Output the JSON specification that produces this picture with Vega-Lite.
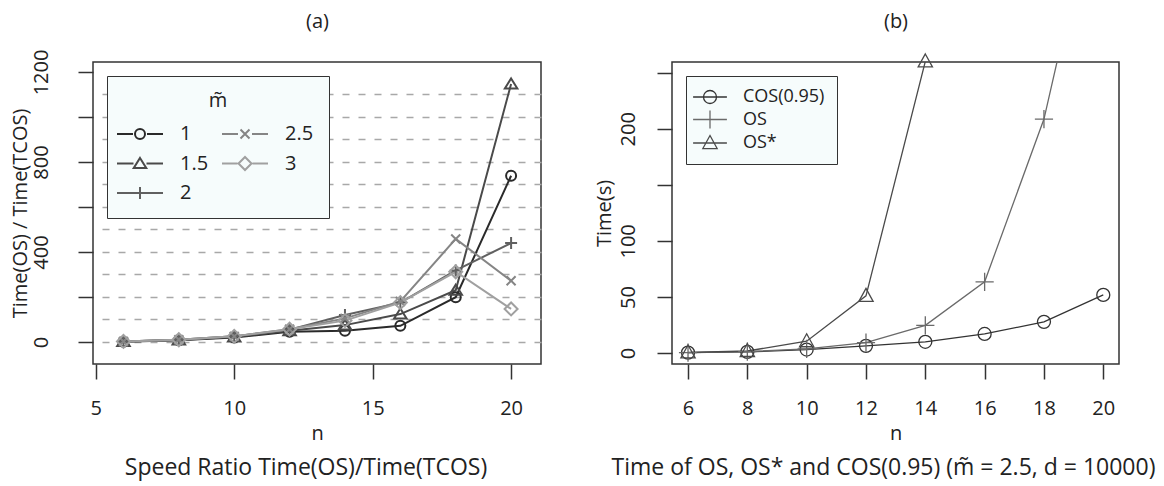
{
  "$schema": "https://vega.github.io/schema/vega-lite/v6.json",
  "background": "white",
  "padding": {"left": 9, "top": 10, "right": 0, "bottom": 0},
  "bounds": "flush",
  "spacing": 131,
  "resolve": {"scale": {"color": "independent", "shape": "independent"}, "legend": {"color": "independent", "shape": "independent"}},
  "config": {
    "font": "Open Sans",
    "view": {"stroke": "#333", "strokeWidth": 1.5},
    "axis": {"labelFont": "Open Sans", "titleFont": "Open Sans", "labelColor": "#222", "titleColor": "#222", "tickColor": "#333", "labelFontSize": 20, "titleFontSize": 20, "titleFontWeight": "normal", "grid": false, "domain": false, "tickSize": 15, "tickWidth": 1.5},
    "legend": {"labelFont": "Open Sans", "titleFont": "Open Sans", "labelColor": "#222", "titleColor": "#222", "fillColor": "#f6fcfc", "strokeColor": "#333", "titleFontWeight": "normal", "symbolOpacity": 1},
    "title": {"font": "Open Sans", "fontSize": 23, "fontWeight": "normal", "color": "#222"}
  },
  "datasets": {
    "a": [
      {"n": 6, "m": "1", "r": 1.5}, {"n": 6, "m": "1.5", "r": 2}, {"n": 6, "m": "2", "r": 2.5}, {"n": 6, "m": "2.5", "r": 2.5}, {"n": 6, "m": "3", "r": 2.5},
      {"n": 8, "m": "1", "r": 8}, {"n": 8, "m": "1.5", "r": 9}, {"n": 8, "m": "2", "r": 10}, {"n": 8, "m": "2.5", "r": 10}, {"n": 8, "m": "3", "r": 10},
      {"n": 10, "m": "1", "r": 20}, {"n": 10, "m": "1.5", "r": 22}, {"n": 10, "m": "2", "r": 25}, {"n": 10, "m": "2.5", "r": 25}, {"n": 10, "m": "3", "r": 25},
      {"n": 12, "m": "1", "r": 45}, {"n": 12, "m": "1.5", "r": 50}, {"n": 12, "m": "2", "r": 55}, {"n": 12, "m": "2.5", "r": 57}, {"n": 12, "m": "3", "r": 57},
      {"n": 14, "m": "1", "r": 50}, {"n": 14, "m": "1.5", "r": 75}, {"n": 14, "m": "2", "r": 120}, {"n": 14, "m": "2.5", "r": 105}, {"n": 14, "m": "3", "r": 95},
      {"n": 16, "m": "1", "r": 72}, {"n": 16, "m": "1.5", "r": 124}, {"n": 16, "m": "2", "r": 175}, {"n": 16, "m": "2.5", "r": 180}, {"n": 16, "m": "3", "r": 175},
      {"n": 18, "m": "1", "r": 199}, {"n": 18, "m": "1.5", "r": 230}, {"n": 18, "m": "2", "r": 318}, {"n": 18, "m": "2.5", "r": 458}, {"n": 18, "m": "3", "r": 312},
      {"n": 20, "m": "1", "r": 739}, {"n": 20, "m": "1.5", "r": 1147}, {"n": 20, "m": "2", "r": 440}, {"n": 20, "m": "2.5", "r": 272}, {"n": 20, "m": "3", "r": 147}
    ],
    "b": [
      {"n": 6, "s": "COS(0.95)", "t": 0.3}, {"n": 8, "s": "COS(0.95)", "t": 1.0}, {"n": 10, "s": "COS(0.95)", "t": 3.1}, {"n": 12, "s": "COS(0.95)", "t": 6.4},
      {"n": 14, "s": "COS(0.95)", "t": 10}, {"n": 16, "s": "COS(0.95)", "t": 17}, {"n": 18, "s": "COS(0.95)", "t": 27.8}, {"n": 20, "s": "COS(0.95)", "t": 51.8},
      {"n": 6, "s": "OS", "t": 0.3}, {"n": 8, "s": "OS", "t": 1.3}, {"n": 10, "s": "OS", "t": 3.6}, {"n": 12, "s": "OS", "t": 9.3},
      {"n": 14, "s": "OS", "t": 24.7}, {"n": 16, "s": "OS", "t": 63.5}, {"n": 18, "s": "OS", "t": 208.6}, {"n": 20, "s": "OS", "t": 440},
      {"n": 6, "s": "OS*", "t": 0.5}, {"n": 8, "s": "OS*", "t": 1.8}, {"n": 10, "s": "OS*", "t": 10.5}, {"n": 12, "s": "OS*", "t": 51},
      {"n": 14, "s": "OS*", "t": 260}
    ]
  },
  "hconcat": [
    {
      "width": 448,
      "height": 302,
      "data": {"name": "a"},
      "title": {"text": "Speed Ratio Time(OS)/Time(TCOS)", "orient": "bottom", "offset": 14, "dx": -11},
      "encoding": {
        "x": {"field": "n", "type": "quantitative", "scale": {"domain": [4.9, 21.08], "nice": false, "zero": false}, "axis": null},
        "y": {"field": "r", "type": "quantitative", "scale": {"domain": [-97.8, 1244.4], "nice": false, "zero": false}, "axis": null},
        "color": {"field": "m", "type": "nominal",
                  "scale": {"domain": ["1", "1.5", "2", "2.5", "3"], "range": ["#2a2a2a", "#4a4a4a", "#606060", "#858585", "#a0a0a0"]},
                  "legend": {"title": "m̃", "orient": "top-left", "offset": 14, "columns": 2, "padding": 15,
                             "titleAnchor": "middle", "titleFontSize": 20, "labelFontSize": 20, "titlePadding": 13,
                             "symbolSize": 100, "symbolStrokeWidth": 2, "symbolOffset": 8, "labelOffset": 30,
                             "rowPadding": 8.5, "columnPadding": 9}}
      },
      "layer": [
        {"mark": {"type": "line", "strokeWidth": 2},
         "encoding": {
           "x": {"field": "n", "type": "quantitative", "axis": {"values": [5, 10, 15, 20], "title": "n", "labelPadding": 19, "titlePadding": 5}},
           "y": {"field": "r", "type": "quantitative", "axis": {"values": [0, 200, 400, 600, 800, 1000, 1200], "format": "d", "labelExpr": "datum.value % 400 === 0 ? datum.label : ''", "labelAngle": -90, "labelPadding": 27, "title": "Time(OS) / Time(TCOS)", "titlePadding": 1}}
         }},
        {"transform": [{"filter": "datum.m === '1'"}], "mark": {"type": "point", "shape": "circle", "filled": false, "strokeWidth": 2, "size": 100, "opacity": 1}},
        {"transform": [{"filter": "datum.m === '1.5'"}], "mark": {"type": "point", "shape": "M0,-1.1L1.25,0.9L-1.25,0.9Z", "filled": false, "strokeWidth": 2, "size": 100, "opacity": 1}},
        {"transform": [{"filter": "datum.m === '2'"}], "mark": {"type": "point", "shape": "M-1.2,0H1.2M0,-1.2V1.2", "filled": false, "strokeWidth": 2, "size": 100, "opacity": 1}},
        {"transform": [{"filter": "datum.m === '2.5'"}], "mark": {"type": "point", "shape": "M-0.9,-0.9L0.9,0.9M-0.9,0.9L0.9,-0.9", "filled": false, "strokeWidth": 2, "size": 100, "opacity": 1}},
        {"transform": [{"filter": "datum.m === '3'"}], "mark": {"type": "point", "shape": "M-1.3,0L0,-1.3L1.3,0L0,1.3Z", "filled": false, "strokeWidth": 2, "size": 100, "opacity": 1}},
        {"mark": {"type": "point", "filled": false, "strokeWidth": 2, "size": 100, "opacity": 0},
         "encoding": {
           "shape": {"field": "m", "type": "nominal",
                     "scale": {"domain": ["1", "1.5", "2", "2.5", "3"], "range": ["M-4.6,0H-1.4M1.4,0H4.6M-1,0A1,1 0 1,1 1,0A1,1 0 1,1 -1,0", "M-4.6,0H-1.3M1.3,0H4.6M0,-1.1L1.25,0.9L-1.25,0.9Z", "M-4.6,0H4.6M0,-1.2V1.2", "M-4.6,0H-1.4M1.4,0H4.6M-0.9,-0.9L0.9,0.9M-0.9,0.9L0.9,-0.9", "M-4.6,0H-1.5M1.5,0H4.6M-1.3,0L0,-1.3L1.3,0L0,1.3Z"]},
                     "legend": {"title": "m̃", "orient": "top-left", "offset": 14, "columns": 2, "padding": 15,
                             "titleAnchor": "middle", "titleFontSize": 20, "labelFontSize": 20, "titlePadding": 13,
                             "symbolSize": 100, "symbolStrokeWidth": 2, "symbolOffset": 8, "labelOffset": 30,
                             "rowPadding": 8.5, "columnPadding": 9}},
           "x": {"field": "n", "type": "quantitative", "axis": {"orient": "top", "title": "(a)", "labels": false, "ticks": false, "domain": false, "titlePadding": 31, "titleFontSize": 20}},
           "y": {"field": "r", "type": "quantitative", "axis": {"orient": "right", "title": null, "labels": false, "ticks": false, "domain": false, "grid": true, "values": [0, 100, 200, 300, 400, 500, 600, 700, 800, 900, 1000, 1100], "gridDash": [7, 9], "gridColor": "#a8a8a8", "gridWidth": 1.5}}
         }}
      ],
      "resolve": {"axis": {"x": "independent", "y": "independent"}}
    },
    {
      "width": 447,
      "height": 302,
      "data": {"name": "b"},
      "title": {"text": "Time of OS, OS* and COS(0.95) (m̃ = 2.5, d = 10000)", "orient": "bottom", "offset": 14, "dx": -12},
      "encoding": {
        "x": {"field": "n", "type": "quantitative", "scale": {"domain": [5.46, 20.53], "nice": false, "zero": false}, "axis": null},
        "y": {"field": "t", "type": "quantitative", "scale": {"domain": [-9.8, 259.5], "nice": false, "zero": false}, "axis": null},
        "color": {"field": "s", "type": "nominal",
                  "scale": {"domain": ["COS(0.95)", "OS", "OS*"], "range": ["#333333", "#6a6a6a", "#4a4a4a"]},
                  "legend": {"title": null, "orient": "top-left", "offset": 14, "columns": 1, "padding": 12,
                             "labelFontSize": 18, "labelExpr": "datum.label + '\u00a0\u00a0\u00a0'", "symbolSize": 169, "symbolStrokeWidth": 1.3, "symbolOffset": 3, "labelOffset": 24,
                             "rowPadding": 0.5}}
      },
      "layer": [
        {"mark": {"type": "line", "strokeWidth": 1.3, "clip": true},
         "encoding": {
           "x": {"field": "n", "type": "quantitative", "axis": {"values": [6, 8, 10, 12, 14, 16, 18, 20], "title": "n", "labelPadding": 19, "titlePadding": 5}},
           "y": {"field": "t", "type": "quantitative", "axis": {"values": [0, 50, 100, 150, 200, 250], "labelExpr": "datum.value === 150 || datum.value === 250 ? '' : datum.label", "labelAngle": -90, "labelPadding": 18.5, "title": "Time(s)", "titlePadding": 4}}
         }},
        {"transform": [{"filter": "datum.s === 'COS(0.95)' && datum.t <= 261"}], "mark": {"type": "point", "shape": "circle", "filled": false, "strokeWidth": 1.3, "size": 169, "opacity": 1}},
        {"transform": [{"filter": "datum.s === 'OS' && datum.t <= 261"}], "mark": {"type": "point", "shape": "M-1.4,0H1.4M0,-1.4V1.4", "filled": false, "strokeWidth": 1.3, "size": 169, "opacity": 1}},
        {"transform": [{"filter": "datum.s === 'OS*' && datum.t <= 261"}], "mark": {"type": "point", "shape": "M0,-1.15L1.1,0.85L-1.1,0.85Z", "filled": false, "strokeWidth": 1.3, "size": 169, "opacity": 1}},
        {"transform": [{"filter": "datum.t <= 261"}],
         "mark": {"type": "point", "filled": false, "strokeWidth": 1.3, "size": 169, "opacity": 0},
         "encoding": {
           "shape": {"field": "s", "type": "nominal",
                     "scale": {"domain": ["COS(0.95)", "OS", "OS*"], "range": ["M-2.6,0H2.6M-1,0A1,1 0 1,1 1,0A1,1 0 1,1 -1,0", "M-2.6,0H2.6M0,-1.4V1.4", "M-2.6,0H2.6M0,-1.15L1.1,0.85L-1.1,0.85Z"]},
                     "legend": {"title": null, "orient": "top-left", "offset": 14, "columns": 1, "padding": 12,
                             "labelFontSize": 18, "labelExpr": "datum.label + '\u00a0\u00a0\u00a0'", "symbolSize": 169, "symbolStrokeWidth": 1.3, "symbolOffset": 3, "labelOffset": 24,
                             "rowPadding": 0.5}},
           "x": {"field": "n", "type": "quantitative", "axis": {"orient": "top", "title": "(b)", "labels": false, "ticks": false, "domain": false, "titlePadding": 31, "titleFontSize": 20}}
         }}
      ],
      "resolve": {"axis": {"x": "independent", "y": "independent"}}
    }
  ]
}
